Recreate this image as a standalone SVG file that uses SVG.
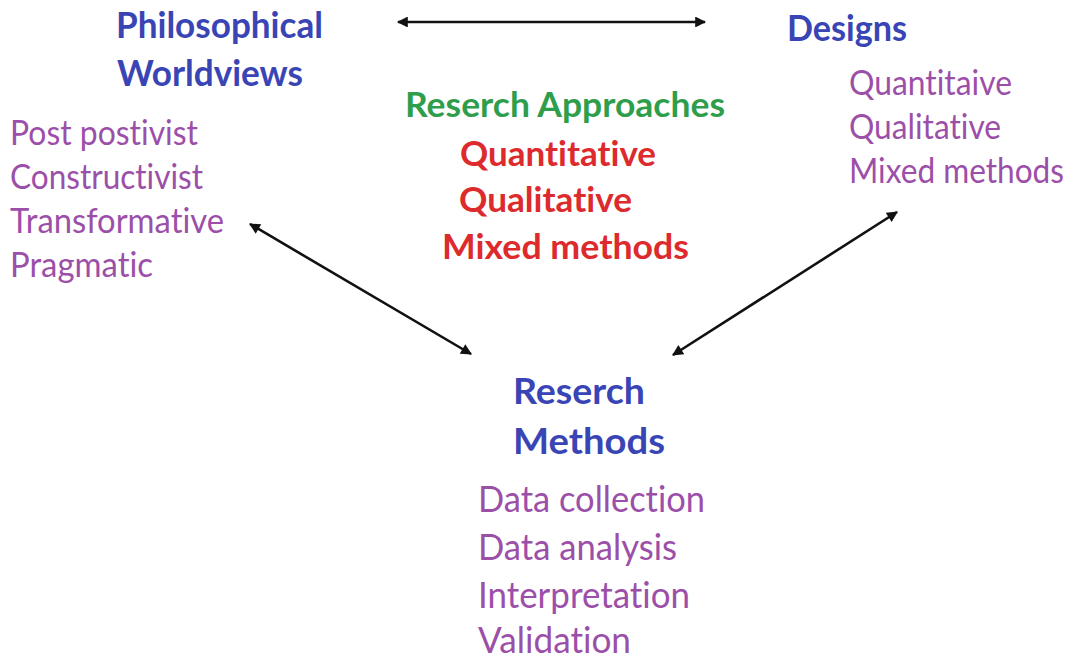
<svg xmlns="http://www.w3.org/2000/svg" width="1074" height="659" viewBox="0 0 1074 659">
  <defs>
    <marker id="head" viewBox="0 0 10 10" refX="9" refY="5" markerWidth="5" markerHeight="4.2" orient="auto-start-reverse" markerUnits="strokeWidth">
      <path d="M0,0 L10,5 L0,10 Z" fill="#111"/>
    </marker>
    <style>
      text { font-family: Lato, "Open Sans", "Liberation Sans", sans-serif; font-variant-ligatures: none; font-feature-settings: "liga" 0, "clig" 0; }
      .title { font-weight: 700; font-size: 36px; fill: #3a45b5; }
      .item { font-size: 34px; fill: #9c4fa9; }
      .item-lg { font-size: 36px; fill: #9c4fa9; }
      .approach { font-weight: 700; font-size: 34px; fill: #2f9e4c; }
      .kind { font-weight: 700; font-size: 35px; fill: #dd2a2c; }
      .link { stroke: #111; stroke-width: 2.6; fill: none; marker-start: url(#head); marker-end: url(#head); }
    </style>
  </defs>
  <rect width="1074" height="659" fill="#ffffff"/>

  <g id="connectors">
    <line class="link" x1="398" y1="22" x2="705" y2="22" stroke-width="3"/>
    <line class="link" x1="250" y1="224" x2="471" y2="354"/>
    <line class="link" x1="897" y1="212" x2="673" y2="355"/>
  </g>

  <g id="worldviews">
    <text class="title" x="116" y="38" textLength="207" lengthAdjust="spacingAndGlyphs">Philosophical</text>
    <text class="title" x="117" y="86" textLength="186" lengthAdjust="spacingAndGlyphs">Worldviews</text>
    <text class="item" x="10" y="145" textLength="188" lengthAdjust="spacingAndGlyphs">Post postivist</text>
    <text class="item" x="10" y="189" textLength="193" lengthAdjust="spacingAndGlyphs">Constructivist</text>
    <text class="item" x="10" y="233" textLength="214" lengthAdjust="spacingAndGlyphs">Transformative</text>
    <text class="item" x="10" y="277" textLength="143" lengthAdjust="spacingAndGlyphs">Pragmatic</text>
  </g>

  <g id="designs">
    <text class="title" x="787" y="41" textLength="120" lengthAdjust="spacingAndGlyphs">Designs</text>
    <text class="item" x="849" y="95" textLength="163" lengthAdjust="spacingAndGlyphs">Quantitaive</text>
    <text class="item" x="849" y="139" textLength="152" lengthAdjust="spacingAndGlyphs">Qualitative</text>
    <text class="item" x="849" y="183" textLength="215" lengthAdjust="spacingAndGlyphs">Mixed methods</text>
  </g>

  <g id="approaches">
    <text class="approach" x="405" y="117" textLength="320" lengthAdjust="spacingAndGlyphs">Reserch Approaches</text>
    <text class="kind" x="460" y="166" textLength="196" lengthAdjust="spacingAndGlyphs">Quantitative</text>
    <text class="kind" x="459" y="212" textLength="173" lengthAdjust="spacingAndGlyphs">Qualitative</text>
    <text class="kind" x="442" y="259" textLength="247" lengthAdjust="spacingAndGlyphs">Mixed methods</text>
  </g>

  <g id="methods">
    <text class="title" x="513" y="404" textLength="132" lengthAdjust="spacingAndGlyphs">Reserch</text>
    <text class="title" x="513" y="454" textLength="152" lengthAdjust="spacingAndGlyphs">Methods</text>
    <text class="item-lg" x="478" y="512" textLength="227" lengthAdjust="spacingAndGlyphs">Data collection</text>
    <text class="item-lg" x="478" y="560" textLength="199" lengthAdjust="spacingAndGlyphs">Data analysis</text>
    <text class="item-lg" x="478" y="608" textLength="212" lengthAdjust="spacingAndGlyphs">Interpretation</text>
    <text class="item-lg" x="478" y="653" textLength="153" lengthAdjust="spacingAndGlyphs">Validation</text>
  </g>
</svg>
